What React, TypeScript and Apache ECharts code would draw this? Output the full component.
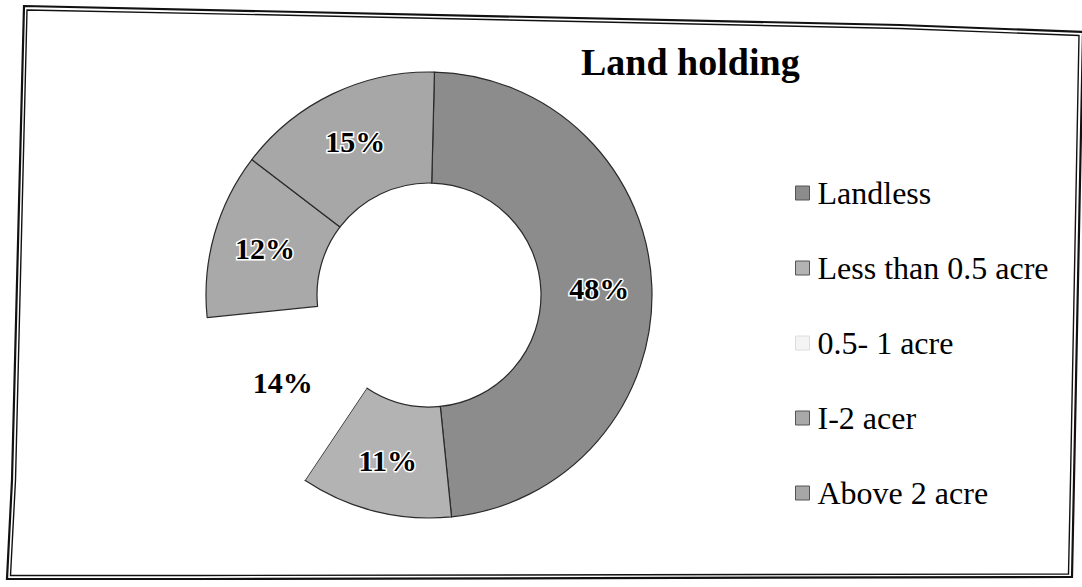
import React, { useEffect, useRef } from "react";
import * as echarts from "echarts";

const categories = ["Landless", "Less than 0.5 acre", "0.5- 1 acre", "I-2 acer", "Above 2 acre"];
const values = [48, 11, 14, 12, 15];
const colors = ["#8c8c8c", "#b3b3b3", "#ffffff", "#a9a9a9", "#a7a7a7"];
const borderColors = ["#2a2a2a", "#2a2a2a", "rgba(0,0,0,0)", "#2a2a2a", "#2a2a2a"];
const titleText = "Land holding";

const outerFrame = [
  [24, 6], [300, 12], [900, 25], [1083, 32], [1074, 480], [1072, 577],
  [200, 579], [7, 579], [12, 480],
];
const innerFrame = [
  [27, 10], [300, 15.5], [900, 28.5], [1079, 35.5], [1070.5, 480], [1068.5, 574],
  [200, 575.5], [10.5, 575.5], [15.5, 480],
];

export default function App() {
  const ref = useRef<HTMLDivElement>(null);
  useEffect(() => {
    document.body.style.margin = "0";
    const chart = echarts.init(ref.current!, null, { renderer: "svg" });
    const font = "Liberation Serif";
    chart.setOption({
      animation: false,
      backgroundColor: "#ffffff",
      title: {
        text: titleText,
        left: 576,
        top: 38,
        textStyle: { fontFamily: font, fontSize: 38, fontWeight: "bold", color: "#000" },
      },
      legend: {
        orient: "vertical",
        left: 790,
        top: 172,
        itemWidth: 14,
        itemHeight: 14,
        itemGap: 43,
        icon: "rect",
        textStyle: { fontFamily: font, fontSize: 32, color: "#000", lineHeight: 32, padding: [0, 0, 0, 3] },
        data: categories.map((c, i) => ({
          name: c,
          itemStyle: {
            color: i === 2 ? "#f4f4f4" : colors[i],
            borderColor: i === 2 ? "#dddddd" : "#555",
            borderWidth: 1,
          },
        })),
      },
      series: [
        {
          type: "pie",
          center: [429, 295],
          radius: [112, 223],
          startAngle: 88.6,
          clockwise: true,
          avoidLabelOverlap: false,
          legendHoverLink: false,
          label: {
            show: true,
            position: "inside",
            formatter: "{d}%",
            fontFamily: font,
            fontSize: 30,
            fontWeight: "bold",
            color: "#000",
            textBorderColor: "#fff",
            textBorderWidth: 3,
          },
          labelLine: { show: false },
          data: categories.map((c, i) => ({
            name: c,
            value: values[i],
            itemStyle: {
              color: colors[i],
              borderColor: borderColors[i],
              borderWidth: i === 2 ? 0 : 1.2,
            },
          })),
        },
      ],
      graphic: [
        {
          type: "polygon",
          shape: { points: outerFrame },
          style: { fill: "none", stroke: "#111", lineWidth: 2.2 },
          silent: true,
        },
        {
          type: "polygon",
          shape: { points: innerFrame },
          style: { fill: "none", stroke: "#111", lineWidth: 1.4 },
          silent: true,
        },
      ],
    });
    return () => chart.dispose();
  }, []);
  return <div ref={ref} style={{ position: "fixed", left: 0, top: 0, width: 1082, height: 587 }} />;
}
